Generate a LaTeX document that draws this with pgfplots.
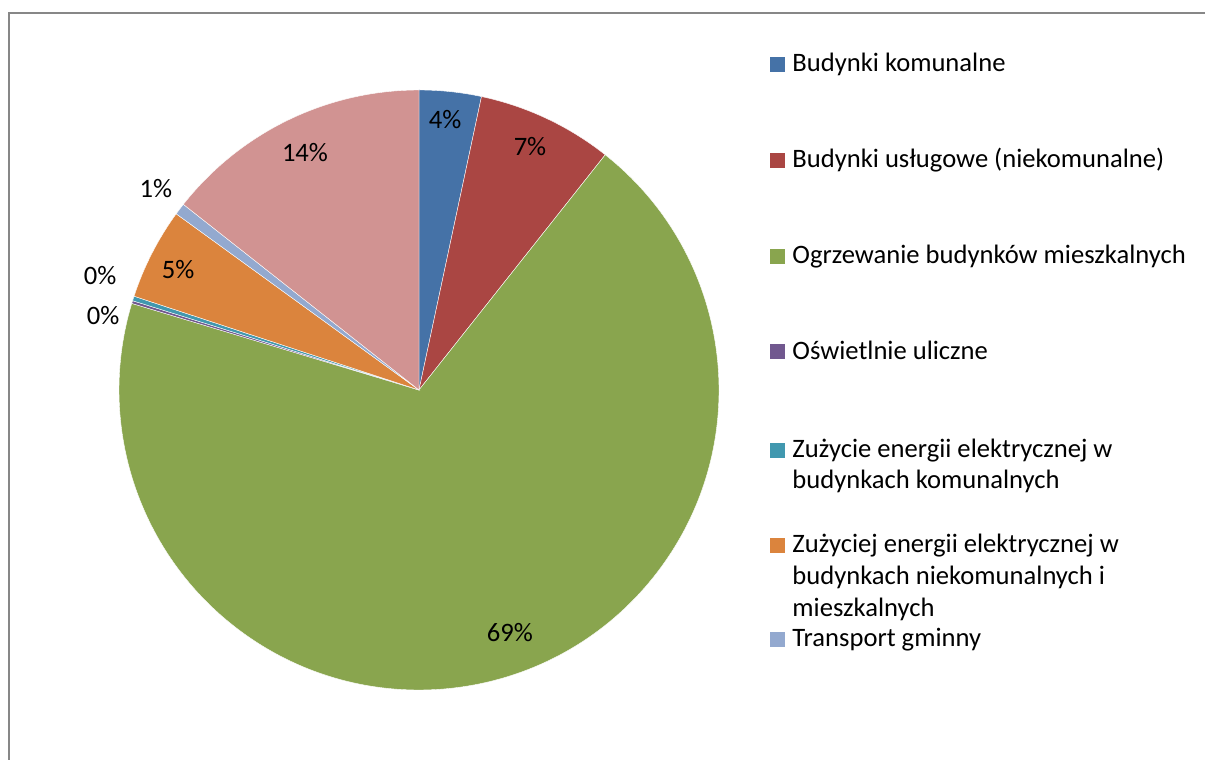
\documentclass[border=0pt]{standalone}
\usepackage{fontspec}
\setmainfont{Carlito}
\usepackage{pgfplots}
\pgfplotsset{compat=1.18}
\definecolor{cA}{HTML}{4572A7}
\definecolor{cB}{HTML}{AA4643}
\definecolor{cC}{HTML}{89A54E}
\definecolor{cD}{HTML}{71588F}
\definecolor{cE}{HTML}{4198AF}
\definecolor{cF}{HTML}{DB843D}
\definecolor{cG}{HTML}{93A9CF}
\definecolor{cH}{HTML}{D19392}
\definecolor{frame}{HTML}{878787}
% slice values (percent)
\def\vA{3.34}  % Budynki komunalne
\def\vB{7.32}  % Budynki uslugowe
\def\vC{69.00} % Ogrzewanie
\def\vD{0.15}  % Oswietlenie
\def\vE{0.25}  % Zuzycie ... komunalnych
\def\vF{4.93}  % Zuzyciej ... niekomunalnych
\def\vG{0.63}  % Transport gminny
\def\vH{14.38} % (unnamed)
\pgfmathsetmacro\cA{\vA}
\pgfmathsetmacro\cB{\cA+\vB}
\pgfmathsetmacro\cC{\cB+\vC}
\pgfmathsetmacro\cD{\cC+\vD}
\pgfmathsetmacro\cE{\cD+\vE}
\pgfmathsetmacro\cF{\cE+\vF}
\pgfmathsetmacro\cG{\cF+\vG}
\pgfmathsetmacro\cH{\cG+\vH}
\newcommand\slice[3]{%
  \fill[#3, draw=white, line width=0.2pt] (axis cs:0,0) -- ++({90-3.6*#1}:150pt)
    arc[start angle={90-3.6*#1}, end angle={90-3.6*#2}, radius=150pt] -- cycle;}
\newcommand\legitem[3]{% y baseline (px), colour, text
  \fill[#2] (385pt,{(760-#1)/2*1pt}) rectangle (392.5pt,{(760-#1+15)/2*1pt});
  \node[anchor=base west, inner sep=0pt] at (396pt,{(760-#1)/2*1pt}) {#3};}
\newcommand\legline[2]{%
  \node[anchor=base west, inner sep=0pt] at (396pt,{(760-#1)/2*1pt}) {#2};}
\begin{document}
\begin{tikzpicture}[font=\fontsize{13.3}{16}\selectfont]
\useasboundingbox (0,0) rectangle (602.5pt,380pt);
\begin{scope}
\clip (0,0) rectangle (602.5pt,380pt);
\draw[frame, line width=1pt] (4.25pt,-10pt) -- (4.25pt,373.5pt) -- (620pt,373.5pt);
\end{scope}
\begin{axis}[hide axis, scale only axis, width=300pt, height=300pt,
  xmin=-1, xmax=1, ymin=-1, ymax=1,
  at={(209.5pt,185pt)}, anchor=center, clip=false]
\slice{0}{\cA}{cA}
\slice{\cA}{\cB}{cB}
\slice{\cB}{\cC}{cC}
\slice{\cC}{\cD}{cD}
\slice{\cD}{\cE}{cE}
\slice{\cE}{\cF}{cF}
\slice{\cF}{\cG}{cG}
\slice{\cG}{\cH}{cH}
\node at (axis cs:0.087,0.90) {4\%};
\node at (axis cs:0.37,0.81) {7\%};
\node at (axis cs:0.303,-0.81) {69\%};
\node at (axis cs:-1.063,0.383) {0\%};
\node at (axis cs:-1.053,0.247) {0\%};
\node at (axis cs:-0.803,0.40) {5\%};
\node at (axis cs:-0.877,0.673) {1\%};
\node at (axis cs:-0.38,0.793) {14\%};
\end{axis}
\legitem{71.7}{cA}{Budynki komunalne}
\legitem{167.7}{cB}{Budynki usługowe (niekomunalne)}
\legitem{263.7}{cC}{Ogrzewanie budynków mieszkalnych}
\legitem{359.3}{cD}{Oświetlnie uliczne}
\legitem{457.7}{cE}{Zużycie energii elektrycznej w}
\legline{489}{budynkach komunalnych}
\legitem{552.7}{cF}{Zużyciej energii elektrycznej w}
\legline{584.3}{budynkach niekomunalnych i}
\legline{616.7}{mieszkalnych}
\legitem{646.7}{cG}{Transport gminny}
\end{tikzpicture}
\end{document}
